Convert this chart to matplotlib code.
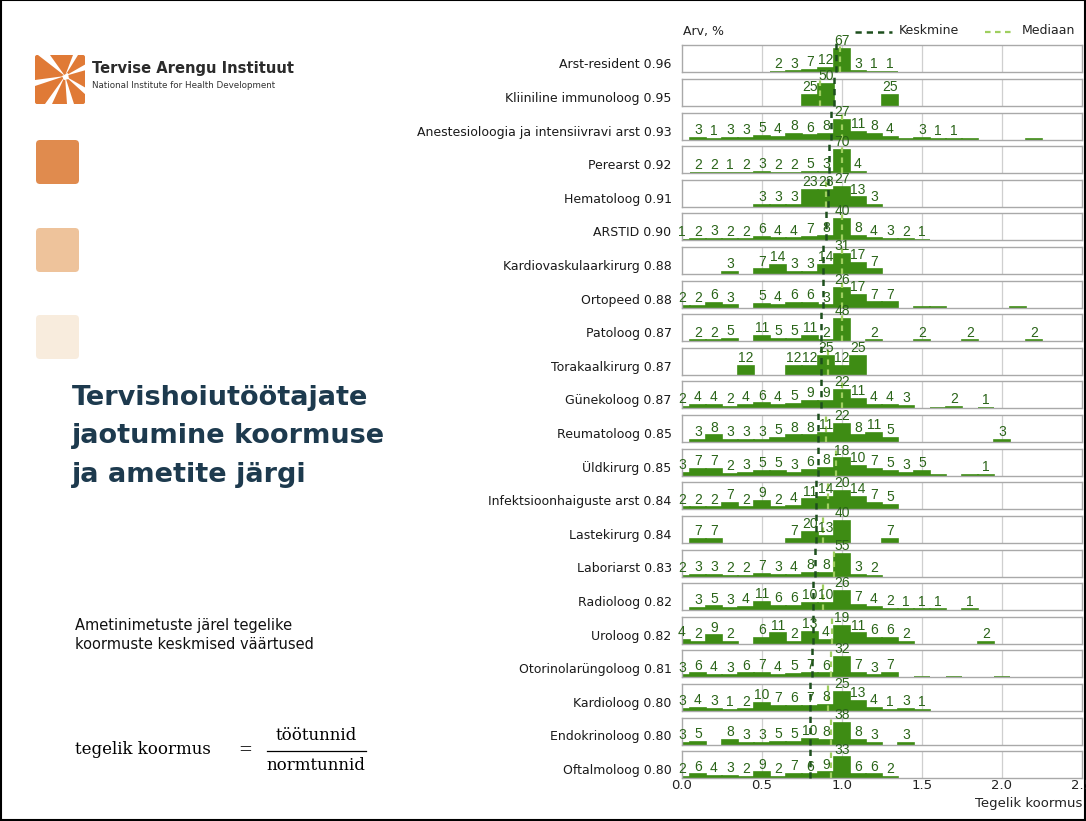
import numpy as np
import matplotlib
matplotlib.use("Agg")
import matplotlib.pyplot as plt
from matplotlib import font_manager
from matplotlib.patches import FancyBboxPatch, Polygon, Rectangle

# ametid, keskmine ja mediaan koormus
professions = ["Arst-resident", "Kliiniline immunoloog", "Anestesioloogia ja intensiivravi arst",
               "Perearst", "Hematoloog", "ARSTID", "Kardiovaskulaarkirurg", "Ortopeed", "Patoloog",
               "Torakaalkirurg", "Günekoloog", "Reumatoloog", "Üldkirurg", "Infektsioonhaiguste arst",
               "Lastekirurg", "Laboriarst", "Radioloog", "Uroloog", "Otorinolarüngoloog",
               "Kardioloog", "Endokrinoloog", "Oftalmoloog"]
mean_load = [0.96, 0.95, 0.93, 0.92, 0.91, 0.90, 0.88, 0.88, 0.87, 0.87, 0.87,
             0.85, 0.85, 0.84, 0.84, 0.83, 0.82, 0.82, 0.81, 0.80, 0.80, 0.80]
median_load = [0.99, 0.86, 1.0, 1.0, 0.90, 1.0, 1.0, 1.0, 1.0, 0.91, 1.0,
               0.90, 0.96, 0.91, 0.88, 0.95, 0.88, 0.935, 0.93, 0.91, 0.93, 0.93]

# koormuse klassid 0.0 ... 2.4 (samm 0.1), osakaal %
bins = np.round(np.arange(0, 2.45, 0.1), 1)
shares = [
    [0, 0, 0, 0, 0, 0, 2, 3, 7, 12, 67, 3, 1, 1, 0, 0, 0, 0, 0, 0, 0, 0, 0, 0, 0],
    [0, 0, 0, 0, 0, 0, 0, 0, 25, 50, 0, 0, 0, 25, 0, 0, 0, 0, 0, 0, 0, 0, 0, 0, 0],
    [0, 3, 1, 3, 3, 5, 4, 8, 6, 8, 27, 11, 8, 4, 0.4, 3, 1, 1, 0.4, 0, 0, 0, 0.4, 0, 0],
    [0, 2, 2, 1, 2, 3, 2, 2, 5, 3, 70, 4, 0, 0, 0, 0, 0, 0, 0, 0, 0, 0, 0, 0, 0],
    [0, 0, 0, 0, 0, 3, 3, 3, 23, 23, 27, 13, 3, 0, 0, 0, 0, 0, 0, 0, 0, 0, 0, 0, 0],
    [1, 2, 3, 2, 2, 6, 4, 4, 7, 8, 40, 8, 4, 3, 2, 1, 0, 0, 0, 0, 0, 0, 0, 0, 0],
    [0, 0, 0, 3, 0, 7, 14, 3, 3, 14, 31, 17, 7, 0, 0, 0, 0, 0, 0, 0, 0, 0, 0, 0, 0],
    [2, 2, 6, 3, 0, 5, 4, 6, 6, 3, 26, 17, 7, 7, 0, 0.4, 0.4, 0, 0, 0, 0, 0.4, 0, 0, 0],
    [0, 2, 2, 5, 0, 11, 5, 5, 11, 2, 48, 0, 2, 0, 0, 2, 0, 0, 2, 0, 0, 0, 2, 0, 0],
    [0, 0, 0, 0, 12, 0, 0, 12, 12, 25, 12, 25, 0, 0, 0, 0, 0, 0, 0, 0, 0, 0, 0, 0, 0],
    [2, 4, 4, 2, 4, 6, 4, 5, 9, 9, 22, 11, 4, 4, 3, 0, 0.4, 2, 0, 1, 0, 0, 0, 0, 0],
    [0, 3, 8, 3, 3, 3, 5, 8, 8, 11, 22, 8, 11, 5, 0, 0, 0, 0, 0, 0, 3, 0, 0, 0, 0],
    [3, 7, 7, 2, 3, 5, 5, 3, 6, 8, 18, 10, 7, 5, 3, 5, 0.4, 0, 0.4, 1, 0, 0, 0, 0, 0],
    [2, 2, 2, 7, 2, 9, 2, 4, 11, 14, 20, 14, 7, 5, 0, 0, 0, 0, 0, 0, 0, 0, 0, 0, 0],
    [0, 7, 7, 0, 0, 0, 0, 7, 20, 13, 40, 0, 0, 7, 0, 0, 0, 0, 0, 0, 0, 0, 0, 0, 0],
    [2, 3, 3, 2, 2, 7, 3, 4, 8, 8, 55, 3, 2, 0, 0, 0, 0, 0, 0, 0, 0, 0, 0, 0, 0],
    [0, 3, 5, 3, 4, 11, 6, 6, 10, 10, 26, 7, 4, 2, 1, 1, 1, 0, 1, 0, 0, 0, 0, 0, 0],
    [4, 2, 9, 2, 0, 6, 11, 2, 13, 4, 19, 11, 6, 6, 2, 0, 0, 0, 0, 2, 0, 0, 0, 0, 0],
    [3, 6, 4, 3, 6, 7, 4, 5, 7, 6, 32, 7, 3, 7, 0, 0.4, 0, 0.4, 0, 0, 0.4, 0, 0, 0, 0],
    [3, 4, 3, 1, 2, 10, 7, 6, 7, 8, 25, 13, 4, 1, 3, 1, 0, 0, 0, 0, 0, 0, 0, 0, 0],
    [3, 5, 0, 8, 3, 3, 5, 5, 10, 8, 38, 8, 3, 0, 3, 0, 0, 0, 0, 0, 0, 0, 0, 0, 0],
    [2, 6, 4, 3, 2, 9, 2, 7, 6, 9, 33, 6, 6, 2, 0, 0, 0, 0, 0, 0, 0, 0, 0, 0, 0],
]
x_ticks = [0.0, 0.5, 1.0, 1.5, 2.0, 2.5]

GREEN = "#3e8c14"
DARKGREEN = "#2a6418"
MEANC = "#1d4f1d"
MEDC = "#9fcf5f"
NAVY = "#1d3a4e"
ORANGE = "#e07a36"

W, H = 1086, 821


def have(name):
    try:
        font_manager.findfont(name, fallback_to_default=False)
        return True
    except Exception:
        return False


NARROW = "Liberation Sans Narrow" if have("Liberation Sans Narrow") else "Liberation Sans"
SANS = "DejaVu Sans"

fig = plt.figure(figsize=(W / 100, H / 100), dpi=100)

# taust / vasak pool pikslites
bg = fig.add_axes([0, 0, 1, 1])
bg.set_xlim(0, W)
bg.set_ylim(H, 0)
bg.axis("off")

# logo: oranž ruut valgete kiirtega
bg.add_patch(FancyBboxPatch((35, 55), 50, 49, boxstyle="round,pad=0,rounding_size=2",
                            color=ORANGE, lw=0))
cx, cy = 65, 76
rays = [((38, 55), (50, 55)), ((73, 55), (78, 55)), ((86, 64), (86, 70)),
        ((86, 88), (86, 95)), ((67, 104), (74, 104)), ((45, 104), (52, 104)),
        ((35, 80), (35, 86))]
for a, b in rays:
    bg.add_patch(Polygon([(cx, cy), a, b], closed=True, color="white", lw=0))
bg.add_patch(Polygon([(cx - 3, cy), (cx + 3, cy - 3), (cx + 4, cy + 3), (cx - 1, cy + 4)],
                     closed=True, color="white", lw=0))
bg.text(92, 69, "Tervise Arengu Instituut", fontsize=10.6, fontweight="bold",
        color="#2b2b2b", va="center", ha="left", family=SANS)
bg.text(92, 86, "National Institute for Health Development", fontsize=6.3,
        color="#333333", va="center", ha="left", family=SANS)

for top, col in [(140, "#e08b4e"), (228, "#eec39b"), (315, "#f8ecdd")]:
    bg.add_patch(FancyBboxPatch((36, top), 43, 44, boxstyle="round,pad=0,rounding_size=4",
                                color=col, lw=0))

for yb, line in zip([405, 443, 482], ["Tervishoiutöötajate", "jaotumine koormuse",
                                      "ja ametite järgi"]):
    bg.text(72, yb, line, fontsize=19.5, fontweight="bold", color=NAVY,
            va="baseline", ha="left", family=SANS)
bg.text(75, 618, "Ametinimetuste järel tegelike\nkoormuste keskmised väärtused",
        fontsize=10.5, color="#111111", va="top", ha="left", linespacing=1.3, family=SANS)

# valem
bg.text(75, 750, "tegelik koormus", fontsize=12, family="DejaVu Serif", va="center", ha="left")
bg.text(238, 750, "=", fontsize=12, family="DejaVu Serif", va="center", ha="left")
bg.text(316, 736, "töötunnid", fontsize=12, family="DejaVu Serif", va="center", ha="center")
bg.text(316, 766, "normtunnid", fontsize=12, family="DejaVu Serif", va="center", ha="center")
bg.plot([267, 366], [751, 751], color="black", lw=0.9)

# raam
bg.add_patch(Rectangle((0.5, 0.5), W - 1.5, H - 1.5, fill=False, ec="black", lw=1.5))

# paneelid
left, width = 682, 400
top0, pitch, ph = 45.5, 33.6, 27
for i, name in enumerate(professions):
    top = top0 + i * pitch
    ax = fig.add_axes([left / W, 1 - (top + ph) / H, width / W, ph / H])
    vals = np.array(shares[i], dtype=float)
    ymax = vals.max() + 10
    ax.set_xlim(0, 2.5)
    ax.set_ylim(0, ymax)
    for g in [0.5, 1.0, 1.5, 2.0]:
        ax.axvline(g, color="#cfcfcf", lw=0.9, zorder=0)
    mask = vals > 0
    ax.bar(bins[mask], vals[mask], width=0.1, color=GREEN, edgecolor=GREEN,
           lw=1.2, zorder=2)
    for b, v in zip(bins, vals):
        if round(v) >= 1:
            ax.text(b, v + ymax * 0.03, f"{int(round(v))}", ha="center", va="bottom",
                    fontsize=10, color=DARKGREEN, family=NARROW, clip_on=False, zorder=4)
    ax.plot([mean_load[i]] * 2, [0, ymax * 1.15], color=MEANC, lw=1.8,
            ls=(0, (2.5, 2)), zorder=3, clip_on=False)
    ax.plot([median_load[i]] * 2, [0, ymax * 1.0], color=MEDC, lw=1.6,
            ls=(0, (2.5, 2)), zorder=3, clip_on=False)
    for s in ax.spines.values():
        s.set_color("#a9a9a9")
        s.set_linewidth(1.0)
    ax.tick_params(length=0)
    ax.set_yticks([])
    ax.text(-0.026, 0.28, f"{name} {mean_load[i]:.2f}", transform=ax.transAxes,
            ha="right", va="center", fontsize=9, color="#1a1a1a", family=SANS)
    if i == len(professions) - 1:
        ax.set_xticks(x_ticks)
        ax.set_xticklabels([f"{t:.1f}" for t in x_ticks], fontsize=9.5,
                           color="#222222", family=SANS)
        ax.tick_params(axis="x", pad=1)
        ax.text(1.0, -0.95, "Tegelik koormus", transform=ax.transAxes, ha="right",
                va="center", fontsize=9.5, color="#222222", family=SANS)
    else:
        ax.set_xticks([])

# päis ja legend
bg.text(683, 32, "Arv, %", fontsize=9, ha="left", va="center", color="#222222", family=SANS)
bg.plot([855, 892], [32, 32], color=MEANC, lw=1.8, ls=(0, (2.5, 2)))
bg.text(899, 31, "Keskmine", fontsize=9, ha="left", va="center", color="#222222", family=SANS)
bg.plot([985, 1013], [32, 32], color=MEDC, lw=1.6, ls=(0, (2.5, 2)))
bg.text(1022, 31, "Mediaan", fontsize=9, ha="left", va="center", color="#222222", family=SANS)

fig.savefig("out.png", dpi=100)
